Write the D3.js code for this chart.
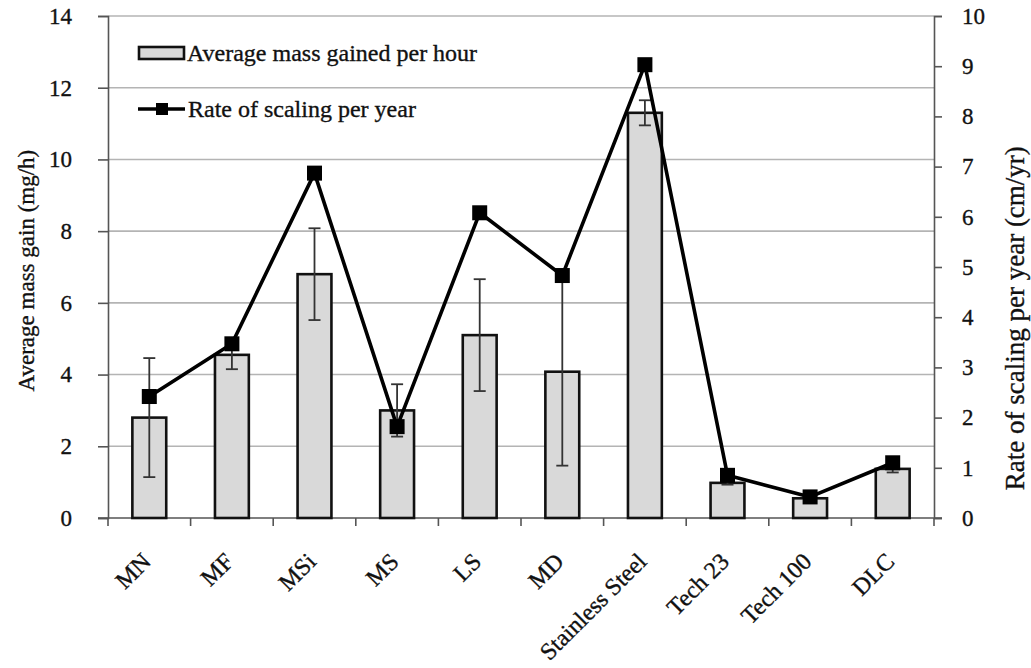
<!DOCTYPE html>
<html>
<head>
<meta charset="utf-8">
<script src="https://cdn.jsdelivr.net/npm/d3@7"></script>
<style>
  html, body { margin: 0; padding: 0; background: #fff; }
  svg text { font-family: "Liberation Serif", "Times New Roman", serif; fill: #111; stroke: #111; stroke-width: 0.35px; }
</style>
</head>
<body>
<svg id="chart" width="1031" height="668"></svg>
<script>
// Coating samples
const categories = ["MN", "MF", "MSi", "MS", "LS", "MD", "Stainless Steel", "Tech 23", "Tech 100", "DLC"];
// Average mass gained per hour (mg/h) and its standard deviation
const massGain = [2.8, 4.55, 6.8, 3.0, 5.1, 4.08, 11.3, 0.98, 0.55, 1.37];
const massErr  = [1.66, 0.4, 1.28, 0.73, 1.56, 2.62, 0.35, 0.05, 0.05, 0.1];
// Rate of scaling per year (cm/yr)
const scalingRate = [2.42, 3.47, 6.87, 1.82, 6.08, 4.83, 9.03, 0.85, 0.42, 1.10];
// Axis ticks
const leftTicks = [0, 2, 4, 6, 8, 10, 12, 14];
const rightTicks = [0, 1, 2, 3, 4, 5, 6, 7, 8, 9, 10];

const svg = d3.select("#chart");
const m = { left: 108, right: 934, top: 16, bottom: 518 };

const x = d3.scaleBand().domain(categories).range([m.left, m.right]).paddingInner(0.59).paddingOuter(0.295);
const step = (m.right - m.left) / categories.length;
const yL = d3.scaleLinear().domain([0, 14]).range([m.bottom, m.top]);
const yR = d3.scaleLinear().domain([0, 10]).range([m.bottom, m.top]);
const cx = c => x(c) + x.bandwidth() / 2;

// Horizontal gridlines
svg.append("g").selectAll("line").data(leftTicks.filter(t => t > 0)).join("line")
  .attr("x1", m.left).attr("x2", m.right)
  .attr("y1", d => yL(d)).attr("y2", d => yL(d))
  .attr("stroke", "#b4b4b4").attr("stroke-width", 1.6);

// Left axis
const axisL = svg.append("g").attr("transform", `translate(${m.left},0)`)
  .call(d3.axisLeft(yL).tickValues(leftTicks).tickSize(10).tickPadding(26));
axisL.select(".domain").attr("stroke", "#555").attr("stroke-width", 1.6);
axisL.selectAll(".tick line").attr("stroke", "#555").attr("stroke-width", 1.6);
axisL.selectAll("text").style("font-size", "23px").style("font-family", "Liberation Serif").attr("fill", "#111");

// Right axis
const axisR = svg.append("g").attr("transform", `translate(${m.right},0)`)
  .call(d3.axisRight(yR).tickValues(rightTicks).tickSize(8).tickPadding(20));
axisR.select(".domain").attr("stroke", "#555").attr("stroke-width", 1.6);
axisR.selectAll(".tick line").attr("stroke", "#555").attr("stroke-width", 1.6);
axisR.selectAll("text").style("font-size", "23px").style("font-family", "Liberation Serif").attr("fill", "#111");

// Bottom axis: boundary ticks between categories
const bounds = d3.range(categories.length + 1).map(i => m.left + i * step);
svg.append("line").attr("x1", m.left - 10).attr("x2", m.right + 8)
  .attr("y1", m.bottom).attr("y2", m.bottom).attr("stroke", "#555").attr("stroke-width", 1.6);
svg.append("g").selectAll("line").data(bounds).join("line")
  .attr("x1", d => d).attr("x2", d => d).attr("y1", m.bottom).attr("y2", m.bottom + 8)
  .attr("stroke", "#555").attr("stroke-width", 1.6);

// Category labels, rotated
svg.append("g").selectAll("text").data(categories).join("text")
  .attr("transform", d => `translate(${cx(d) + 3},${m.bottom + 45}) rotate(-45)`)
  .attr("text-anchor", "end")
  .style("font-size", "24px")
  .text(d => d);

// Bars
svg.append("g").selectAll("rect").data(categories).join("rect")
  .attr("x", d => x(d)).attr("width", x.bandwidth())
  .attr("y", (d, i) => yL(massGain[i]))
  .attr("height", (d, i) => yL(0) - yL(massGain[i]))
  .attr("fill", "#d9d9d9").attr("stroke", "#111").attr("stroke-width", 2.6);

// Error bars
const eb = svg.append("g").attr("stroke", "#333").attr("stroke-width", 1.8);
categories.forEach((c, i) => {
  const lo = yL(massGain[i] - massErr[i]), hi = yL(massGain[i] + massErr[i]);
  eb.append("line").attr("x1", cx(c)).attr("x2", cx(c)).attr("y1", lo).attr("y2", hi);
  eb.append("line").attr("x1", cx(c) - 6).attr("x2", cx(c) + 6).attr("y1", lo).attr("y2", lo);
  eb.append("line").attr("x1", cx(c) - 6).attr("x2", cx(c) + 6).attr("y1", hi).attr("y2", hi);
});

// Scaling-rate line with square markers
const line = d3.line().x((d, i) => cx(categories[i])).y(d => yR(d));
svg.append("path").datum(scalingRate).attr("d", line)
  .attr("fill", "none").attr("stroke", "#000").attr("stroke-width", 3.6).attr("stroke-linejoin", "round");
const ms = 15;
svg.append("g").selectAll("rect").data(scalingRate).join("rect")
  .attr("x", (d, i) => cx(categories[i]) - ms / 2).attr("y", d => yR(d) - ms / 2)
  .attr("width", ms).attr("height", ms).attr("fill", "#000");

// Axis titles
svg.append("text").attr("transform", `translate(34,${yL(6.9)}) rotate(-90)`)
  .attr("text-anchor", "middle").style("font-size", "23px").text("Average mass gain (mg/h)");
svg.append("text").attr("transform", `translate(1024,${yR(3.98)}) rotate(-90)`)
  .attr("text-anchor", "middle").style("font-size", "27px").text("Rate of scaling per year (cm/yr)");

// Legend
const lg = svg.append("g");
lg.append("rect").attr("x", 139).attr("y", 47).attr("width", 45).attr("height", 12)
  .attr("fill", "#d9d9d9").attr("stroke", "#111").attr("stroke-width", 2.6);
lg.append("text").attr("x", 187).attr("y", 61).style("font-size", "24px").text("Average mass gained per hour");
lg.append("line").attr("x1", 138).attr("x2", 185).attr("y1", 109).attr("y2", 109)
  .attr("stroke", "#000").attr("stroke-width", 3.6);
lg.append("rect").attr("x", 162 - 6).attr("y", 109 - 6).attr("width", 12).attr("height", 12).attr("fill", "#000");
lg.append("text").attr("x", 188).attr("y", 117).style("font-size", "24px").text("Rate of scaling per year");
</script>
</body>
</html>
